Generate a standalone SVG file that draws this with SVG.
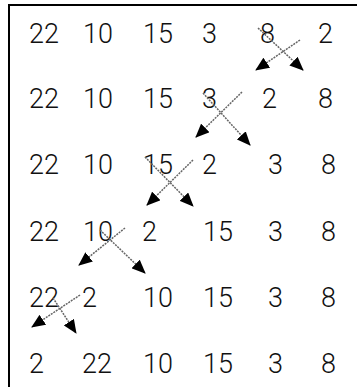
<svg xmlns="http://www.w3.org/2000/svg" width="357" height="387" viewBox="0 0 357 387">
<defs>
<style>
text{font-family:Roboto,"Liberation Sans",Arial,sans-serif;font-weight:300;font-size:27px;fill:#111}
.c{stroke:#666;stroke-width:1.5;stroke-dasharray:2 1;fill:none}
.frame{stroke:#000;stroke-width:2;fill:none}
</style>
<marker id="ah" markerUnits="userSpaceOnUse" markerWidth="14" markerHeight="12" refX="13" refY="6" orient="auto">
<path d="M0,0 L14,6 L0,12 Z" fill="#000"/>
</marker>
</defs>
<rect width="357" height="387" fill="#fff"/>
<path class="frame" d="M9,387 V5 H357"/>
<g id="row1"><text x="29" y="43">22</text><text x="83" y="43">10</text><text x="143" y="43">15</text><text x="202" y="43">3</text><text x="260" y="43">8</text><text x="318" y="43">2</text></g>
<g id="row2"><text x="29" y="108">22</text><text x="83" y="108">10</text><text x="143" y="108">15</text><text x="202" y="108">3</text><text x="262" y="108">2</text><text x="318" y="108">8</text></g>
<g id="row3"><text x="29" y="174">22</text><text x="83" y="174">10</text><text x="143" y="174">15</text><text x="202" y="174">2</text><text x="268" y="174">3</text><text x="321" y="174">8</text></g>
<g id="row4"><text x="29" y="241">22</text><text x="83" y="241">10</text><text x="142" y="241">2</text><text x="203" y="241">15</text><text x="268" y="241">3</text><text x="321" y="241">8</text></g>
<g id="row5"><text x="29" y="307">22</text><text x="82" y="307">2</text><text x="143" y="307">10</text><text x="203" y="307">15</text><text x="268" y="307">3</text><text x="321" y="307">8</text></g>
<g id="row6"><text x="29" y="373">2</text><text x="82" y="373">22</text><text x="143" y="373">10</text><text x="203" y="373">15</text><text x="268" y="373">3</text><text x="321" y="373">8</text></g>
<g id="connectors">
<line class="c" x1="258" y1="28" x2="303" y2="70" marker-end="url(#ah)"/>
<line class="c" x1="300" y1="40" x2="256" y2="70" marker-end="url(#ah)"/>
<line class="c" x1="203" y1="93" x2="250" y2="145" marker-end="url(#ah)"/>
<line class="c" x1="242" y1="92" x2="196" y2="137" marker-end="url(#ah)"/>
<line class="c" x1="145" y1="157" x2="193" y2="206" marker-end="url(#ah)"/>
<line class="c" x1="193" y1="160" x2="147" y2="205" marker-end="url(#ah)"/>
<line class="c" x1="100" y1="230" x2="145" y2="273" marker-end="url(#ah)"/>
<line class="c" x1="125" y1="228" x2="79" y2="265" marker-end="url(#ah)"/>
<line class="c" x1="53" y1="298" x2="76" y2="333" marker-end="url(#ah)"/>
<line class="c" x1="80" y1="295" x2="32" y2="327" marker-end="url(#ah)"/>
</g>
</svg>
